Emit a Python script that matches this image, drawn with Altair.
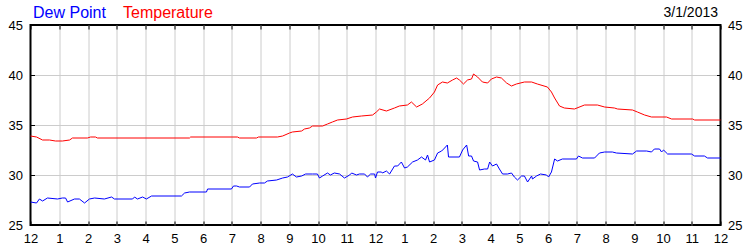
import altair as alt
import pandas as pd

# ---- data ----
temp_hours = [0.0, 0.21, 0.42, 0.66, 0.87, 1.11, 1.36, 1.46, 1.98, 2.09, 2.26, 2.33, 5.53, 5.57, 7.20,
              7.27, 7.86, 7.93, 8.59, 8.77, 9.01, 9.11, 9.43, 9.53, 9.70, 9.81, 10.16, 10.33, 10.50, 10.68,
              10.99, 11.20, 11.51, 11.90, 12.03, 12.14, 12.38, 12.66, 12.83, 13.11, 13.25, 13.43, 13.63, 13.88, 14.05,
              14.16, 14.33, 14.50, 14.68, 14.82, 14.92, 15.06, 15.20, 15.34, 15.41, 15.55, 15.72, 15.90, 16.03, 16.21,
              16.38, 16.56, 16.73, 16.90, 17.18, 17.43, 17.63, 17.98, 18.12, 18.23, 18.40, 18.57, 18.92, 19.27, 19.72,
              19.97, 20.31, 20.42, 20.94, 21.11, 21.36, 21.60, 22.12, 22.30, 23.03, 23.10, 24.0]
temp_values = [33.9, 33.8, 33.5, 33.5, 33.4, 33.4, 33.5, 33.7, 33.7, 33.8, 33.8, 33.7, 33.7, 33.8, 33.8,
               33.7, 33.7, 33.8, 33.8, 33.9, 34.2, 34.3, 34.4, 34.6, 34.7, 34.9, 34.9, 35.1, 35.3, 35.5,
               35.6, 35.8, 35.9, 36.0, 36.3, 36.6, 36.4, 36.7, 36.9, 37.0, 37.3, 36.8, 37.1, 37.7, 38.3,
               39.0, 39.3, 39.2, 39.5, 39.7, 39.5, 39.1, 39.5, 39.6, 40.1, 39.8, 39.3, 39.2, 39.6, 39.8,
               39.7, 39.2, 38.9, 39.1, 39.3, 39.3, 39.1, 38.8, 38.3, 37.7, 36.9, 36.7, 36.6, 37.0, 37.0,
               36.8, 36.7, 36.6, 36.5, 36.3, 36.0, 35.8, 35.8, 35.6, 35.6, 35.5, 35.5]

dew_hours = [0.0, 0.21, 0.31, 0.42, 0.59, 0.94, 1.11, 1.22, 1.29, 1.53,
             1.70, 1.88, 2.05, 2.23, 2.57, 2.82, 2.92, 3.55, 3.62, 3.72,
             3.90, 4.03, 4.21, 5.25, 5.36, 5.53, 6.12, 6.16, 6.99, 7.06,
             7.17, 7.27, 7.62, 7.72, 7.97, 8.14, 8.24, 8.56, 8.77, 8.94,
             9.11, 9.25, 9.43, 9.57, 9.81, 9.98, 10.05, 10.16, 10.33, 10.43,
             10.57, 10.75, 10.92, 11.10, 11.17, 11.34, 11.44, 11.62, 11.72, 11.83,
             11.97, 12.00, 12.07, 12.21, 12.24, 12.38, 12.49, 12.66, 12.77, 12.90,
             13.01, 13.11, 13.29, 13.46, 13.60, 13.74, 13.81, 13.88, 14.05, 14.16,
             14.30, 14.37, 14.50, 14.54, 14.92, 15.03, 15.17, 15.24, 15.34, 15.41,
             15.55, 15.62, 15.79, 15.90, 15.97, 16.07, 16.21, 16.31, 16.42, 16.59,
             16.73, 16.83, 16.94, 17.08, 17.18, 17.29, 17.43, 17.46, 17.60, 17.74,
             17.95, 18.02, 18.12, 18.23, 18.33, 18.50, 18.99, 19.06, 19.20, 19.62,
             19.79, 19.97, 20.24, 20.38, 20.94, 21.08, 21.43, 21.60, 21.70, 21.88,
             21.95, 22.02, 22.16, 22.99, 23.10, 23.44, 23.55, 24.0]
dew_values = [27.3, 27.2, 27.6, 27.4, 27.7, 27.6, 27.7, 27.7, 27.3, 27.6,
              27.6, 27.2, 27.6, 27.7, 27.6, 27.8, 27.6, 27.6, 27.8, 27.6,
              27.8, 27.6, 27.9, 27.9, 28.2, 28.3, 28.3, 28.6, 28.6, 28.9,
              28.9, 28.8, 28.8, 29.1, 29.2, 29.2, 29.4, 29.5, 29.7, 29.8,
              30.1, 29.8, 29.9, 30.1, 30.1, 30.1, 29.7, 29.9, 30.2, 30.0,
              30.2, 30.1, 29.7, 30.0, 30.2, 30.0, 30.1, 30.1, 29.8, 30.1,
              30.1, 29.7, 30.3, 30.3, 30.2, 30.4, 30.1, 30.9, 30.9, 31.3,
              30.7, 30.8, 31.3, 31.5, 31.8, 31.5, 32.0, 31.3, 31.5, 32.2,
              32.4, 32.6, 33.0, 31.8, 31.8, 32.5, 33.0, 31.9, 31.9, 31.4,
              31.3, 30.5, 30.6, 30.6, 31.3, 30.9, 31.1, 30.6, 30.1, 30.1,
              30.2, 29.8, 29.5, 29.9, 29.9, 29.3, 29.9, 29.6, 29.9, 30.1,
              30.0, 29.8, 30.3, 31.6, 31.4, 31.6, 31.6, 31.9, 31.7, 31.7,
              32.2, 32.3, 32.3, 32.2, 32.1, 32.4, 32.4, 32.3, 32.6, 32.6,
              32.3, 32.5, 32.1, 32.1, 31.9, 31.9, 31.7, 31.7]

series_names = ["Dew Point", "Temperature"]
series_colors = ["#0000ff", "#ff0000"]
hour_ticks = list(range(0, 25))
inner_hours = list(range(1, 24))
y_ticks = [25, 30, 35, 40, 45]
y_grid = [30, 35, 40]
date_label = "3/1/2013"

df = pd.concat([
    pd.DataFrame({"hour": dew_hours, "value": dew_values, "series": "Dew Point"}),
    pd.DataFrame({"hour": temp_hours, "value": temp_values, "series": "Temperature"}),
], ignore_index=True)

FONT = "Liberation Sans"
x_scale = alt.Scale(domain=[0, 24], nice=False, zero=False)
y_scale = alt.Scale(domain=[25, 45], nice=False, zero=False)
color_scale = alt.Scale(domain=series_names, range=series_colors)
hour_label = "datum.value % 12 == 0 ? '12' : '' + (datum.value % 12)"


def layer(xaxis, yaxis, opacity=0):
    return alt.Chart(df).mark_line(strokeWidth=1, opacity=opacity).encode(
        x=alt.X("hour:Q", scale=x_scale, axis=xaxis),
        y=alt.Y("value:Q", scale=y_scale, axis=yaxis),
        color=alt.Color("series:N", scale=color_scale, legend=None),
    )


def grid_axis(orient, values):
    return alt.Axis(orient=orient, values=values, grid=True, gridColor="#cccccc", gridWidth=1,
                    gridOpacity=1, labels=False, ticks=False, domain=False, title=None)


def label_axis(orient, values, pad, expr=None, baseline=None):
    kw = dict(orient=orient, values=values, grid=False, ticks=False, domain=False, title=None,
              labelFont=FONT, labelFontSize=13, labelColor="#000000", labelPadding=pad,
              labelFlush=False, labelOverlap=False, zindex=1)
    if expr:
        kw["labelExpr"] = expr
    if baseline:
        kw["labelBaseline"] = baseline
    return alt.Axis(**kw)


def tick_axis(orient, values):
    return alt.Axis(orient=orient, values=values, grid=False, ticks=True, tickSize=4, tickColor="#000000",
                    tickWidth=1, labels=False, domain=False, title=None, offset=-4, zindex=1)


lines = layer(grid_axis("bottom", inner_hours), grid_axis("left", y_grid), opacity=1)
l_b = layer(label_axis("bottom", hour_ticks, 7, expr=hour_label, baseline="top"),
            label_axis("left", y_ticks, 8))
l_c = layer(tick_axis("bottom", hour_ticks), label_axis("right", y_ticks, 7))
l_d = layer(tick_axis("top", hour_ticks), tick_axis("left", y_ticks))
l_e = layer(None, tick_axis("right", y_ticks))

legend_dew = alt.Chart(pd.DataFrame({"t": [series_names[0]]})).mark_text(
    font=FONT, fontSize=16, color=series_colors[0], align="left", baseline="alphabetic"
).encode(text="t:N", x=alt.value(2.5), y=alt.value(-7))
legend_temp = alt.Chart(pd.DataFrame({"t": [series_names[1]]})).mark_text(
    font=FONT, fontSize=16, color=series_colors[1], align="left", baseline="alphabetic"
).encode(text="t:N", x=alt.value(92.5), y=alt.value(-7))
date_text = alt.Chart(pd.DataFrame({"t": [date_label]})).mark_text(
    font=FONT, fontSize=14, color="#000000", align="right", baseline="alphabetic"
).encode(text="t:N", x=alt.value(687.5), y=alt.value(-8))

chart = alt.layer(lines, l_b, l_c, l_d, l_e, legend_dew, legend_temp, date_text).resolve_axis(
    x="independent", y="independent"
).properties(
    width=690, height=200,
    autosize=alt.AutoSizeParams(type="none"),
    padding={"left": 30.5, "top": 25, "right": 29.5, "bottom": 25},
    background="white",
).configure_view(stroke="#000000", strokeWidth=2)

chart.save("out.html", embed_options={"renderer": "svg", "actions": False})
